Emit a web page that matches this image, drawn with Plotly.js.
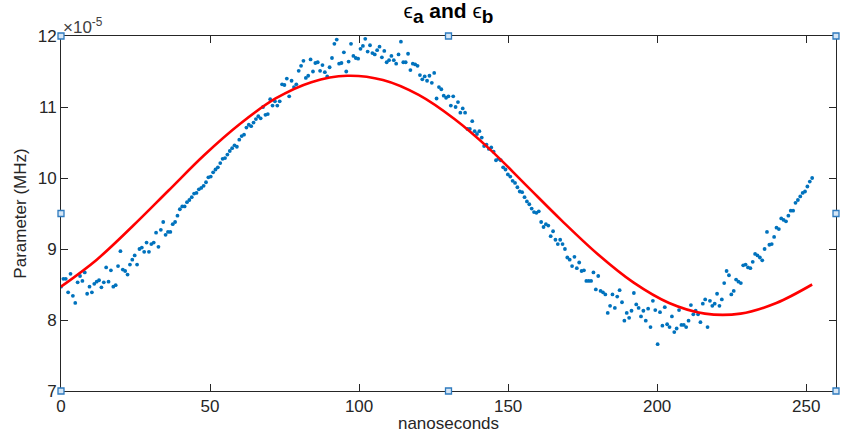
<!DOCTYPE html>
<html>
<head>
<meta charset="utf-8">
<script src="https://cdn.plot.ly/plotly-3.0.1.min.js"></script>
<style>
  html, body { margin: 0; padding: 0; background: #ffffff; }
  #chart { width: 845px; height: 433px; }
</style>
</head>
<body>
<div id="chart"></div>
<script>
// Measured parameter (units of 1e-5 MHz), evenly sampled from 0 to 252 ns
const sampleStart = 0;
const sampleEnd = 252;
const measured = [
  8.47, 8.58, 8.58, 8.39, 8.65, 8.34, 8.24, 8.53, 8.62, 8.55,
  8.67, 8.37, 8.47, 8.39, 8.51, 8.54, 8.56, 8.46, 8.53, 8.74,
  8.54, 8.70, 8.47, 8.49, 8.76, 8.97, 8.71, 8.69, 8.64, 8.78,
  8.85, 8.91, 8.78, 9.00, 9.02, 8.96, 9.09, 8.96, 9.07, 9.09,
  9.23, 9.03, 9.27, 9.38, 9.20, 9.24, 9.24, 9.35, 9.38, 9.47,
  9.56, 9.60, 9.60, 9.66, 9.69, 9.73, 9.78, 9.79, 9.84,
  9.86, 9.89, 9.94, 10.01, 10.02, 10.08, 10.12, 10.15, 10.21,
  10.27, 10.28, 10.33, 10.38, 10.42, 10.46, 10.44,
  10.54, 10.59, 10.61,
  10.71, 10.75, 10.73, 10.78, 10.83, 10.87, 10.84,
  11.00, 10.89, 10.90,
  11.11, 11.02, 11.08, 11.02, 11.08,
  11.32, 11.31, 11.40, 11.15, 11.37,
  11.28, 11.32, 11.51, 11.58, 11.65, 11.41, 11.44, 11.67, 11.50, 11.62, 11.63, 11.51,
  11.59, 11.49, 11.43, 11.56, 11.69, 11.89, 11.95,
  11.61, 11.62, 11.77, 11.50, 11.64, 11.89, 11.72, 11.69, 11.68,
  11.82, 11.86, 11.96, 11.78, 11.87, 11.76, 11.74, 11.80, 11.85, 11.70,
  11.79, 11.63, 11.66, 11.72, 11.66, 11.61, 11.74, 11.92, 11.63, 11.63,
  11.75, 11.52, 11.61, 11.60, 11.58, 11.45, 11.39, 11.43, 11.37, 11.44,
  11.34, 11.48, 11.12, 11.28, 11.25, 11.16, 11.13, 11.15, 11.02, 11.15,
  11.00, 11.07, 10.92, 10.98, 10.92, 10.69, 10.69,
  10.80, 10.66, 10.62, 10.66, 10.57, 10.45, 10.47, 10.41, 10.43, 10.37,
  10.25, 10.27, 10.25, 10.15, 10.12, 10.05, 10.02, 9.96, 9.93, 9.87,
  9.81, 9.80, 9.73, 9.67, 9.63, 9.57, 9.52, 9.51, 9.53,
  9.38, 9.31, 9.35, 9.33, 9.18, 9.25, 9.13, 9.07, 9.13, 9.07,
  9.00, 8.88, 8.85, 8.76, 8.89, 8.73, 8.81, 8.69, 8.70,
  8.55, 8.55, 8.55,
  8.67, 8.43, 8.62, 8.41, 8.39, 8.36, 8.10, 8.20, 8.36, 8.17,
  8.33, 8.42, 8.25, 7.99, 8.10, 8.03, 8.13, 8.38, 8.22, 8.17,
  8.05, 8.13, 7.99, 8.16, 7.90, 8.27, 8.14, 7.66, 8.11, 7.92,
  8.18, 7.94, 7.90, 8.05, 7.83, 7.88, 8.14, 7.93, 7.93, 7.90,
  7.99, 8.21, 8.08, 8.13, 8.08, 7.97, 8.23, 8.29, 7.90, 8.27,
  8.20, 8.23, 8.37, 8.20, 8.29, 8.52, 8.69, 8.63,
  8.36, 8.41, 8.57, 8.54, 8.52, 8.77, 8.78, 8.74, 8.73, 8.82,
  8.93, 8.91, 8.88, 8.84, 9.00, 9.24, 9.06, 9.07, 9.17, 9.30,
  9.28, 9.43, 9.41, 9.39, 9.47, 9.54, 9.54,
  9.65, 9.69, 9.74, 9.79, 9.81, 9.88, 9.95, 10.00
];

// Fitted sinusoid, sampled every 12 ns
const fitT = [0, 12, 24, 36, 48, 60, 72, 84, 96, 108, 120, 132, 144, 156, 168, 180, 192, 204, 216, 228, 240, 252];
const fitValues = [8.47, 8.85, 9.32, 9.82, 10.32, 10.76, 11.12, 11.35, 11.44, 11.38, 11.17, 10.83,
                   10.40, 9.90, 9.40, 8.93, 8.53, 8.24, 8.09, 8.09, 8.24, 8.50];

const xTicks = [0, 50, 100, 150, 200, 250];
const yTicks = [7, 8, 9, 10, 11, 12];

const step = (sampleEnd - sampleStart) / (measured.length - 1);
const sampleT = measured.map((_, i) => sampleStart + i * step);

const axisColor = '#262626';
const font = 'Liberation Sans, Arial, Helvetica, sans-serif';

const traces = [
  {
    x: sampleT, y: measured, type: 'scatter', mode: 'markers',
    marker: { color: '#0072BD', size: 3.8, symbol: 'circle', line: { width: 0 } },
    hoverinfo: 'x+y', showlegend: false
  },
  {
    x: fitT, y: fitValues, type: 'scatter', mode: 'lines',
    line: { color: '#FF0000', width: 2.6, shape: 'spline', smoothing: 1 },
    hoverinfo: 'x+y', showlegend: false
  }
];

// Selection handles on the axes box (corners and edge midpoints)
const handlePos = [[0, 0], [0.5, 0], [1, 0], [0, 0.5], [1, 0.5], [0, 1], [0.5, 1], [1, 1]];
const handles = handlePos.map(([px, py]) => ({
  type: 'rect', xref: 'paper', yref: 'paper',
  xsizemode: 'pixel', ysizemode: 'pixel',
  xanchor: px, yanchor: py,
  x0: -3, x1: 3, y0: -3, y1: 3,
  line: { color: '#2F7BBF', width: 1.3 },
  fillcolor: '#D6E6F5', layer: 'above'
}));

const subStyle = 'font-size:19px;font-weight:bold';
const titleText =
  '<span style="font-weight:normal">\u03f5</span><sub><span style="' + subStyle + '">a</span></sub>' +
  ' <b>and</b> ' +
  '<span style="font-weight:normal">\u03f5</span><sub><span style="' + subStyle + '">b</span></sub>';

const layout = {
  width: 845, height: 433,
  margin: { l: 61, r: 9, t: 36, b: 42 },
  paper_bgcolor: '#ffffff', plot_bgcolor: '#ffffff',
  font: { family: font, size: 17, color: axisColor },
  title: {
    text: titleText,
    font: { family: font, size: 21, color: '#000000' },
    x: 0.5, xref: 'paper', y: 0.975, yref: 'container', yanchor: 'middle'
  },
  xaxis: {
    range: [0, 260], tickvals: xTicks, ticktext: xTicks.map(String),
    ticks: 'inside', ticklen: 7, tickwidth: 1, tickcolor: axisColor,
    showline: true, linecolor: axisColor, linewidth: 1, mirror: 'ticks',
    showgrid: false, zeroline: false,
    tickfont: { family: font, size: 17, color: axisColor },
    title: { text: 'nanoseconds', font: { family: font, size: 17, color: axisColor }, standoff: 0 },
    automargin: false, fixedrange: true
  },
  yaxis: {
    range: [7, 12], tickvals: yTicks, ticktext: yTicks.map(String),
    ticks: 'inside', ticklen: 7, tickwidth: 1, tickcolor: axisColor,
    showline: true, linecolor: axisColor, linewidth: 1, mirror: 'ticks',
    showgrid: false, zeroline: false,
    tickfont: { family: font, size: 17, color: axisColor },
    title: { text: 'Parameter (MHz)', font: { family: font, size: 17, color: axisColor }, standoff: 6 },
    automargin: false, fixedrange: true
  },
  annotations: [{
    text: '\u00d710<sup>-5</sup>', xref: 'paper', yref: 'paper', x: 0, y: 1,
    xanchor: 'left', yanchor: 'bottom', showarrow: false, yshift: -3,
    font: { family: font, size: 17, color: '#404040' }
  }],
  shapes: handles,
  showlegend: false
};

Plotly.newPlot('chart', traces, layout, { displayModeBar: false, staticPlot: true });
</script>
</body>
</html>
